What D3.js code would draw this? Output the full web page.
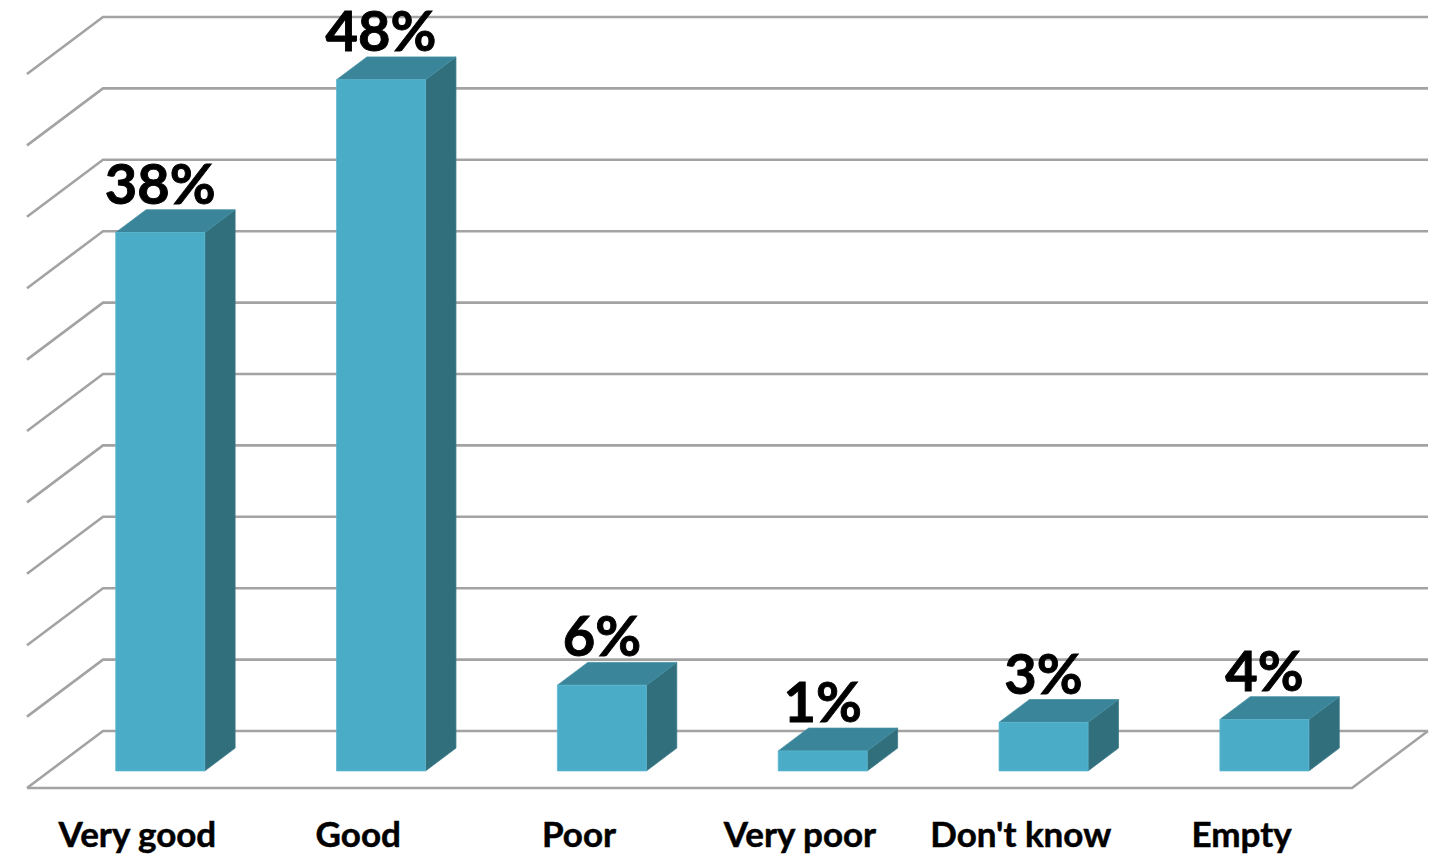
<!DOCTYPE html>
<html>
<head>
<meta charset="utf-8">
<script src="https://cdn.jsdelivr.net/npm/d3@7"></script>
<style>
  html, body { margin: 0; padding: 0; background: #ffffff; }
  svg { display: block; }
  text { font-family: Lato, "Open Sans", sans-serif; font-weight: 700; fill: #000; }
</style>
</head>
<body>
<svg id="chart" width="1450" height="858"></svg>
<script>
// ---- data ----
const categories = ["Very good", "Good", "Poor", "Very poor", "Don't know", "Empty"];
const values = [37.7, 48.4, 6.0, 1.4, 3.4, 3.6];          // percent
const gridTicks = [0, 5, 10, 15, 20, 25, 30, 35, 40, 45, 50];

// ---- layout ----
const backLeft = 103, backRight = 1428;
const depth = { dx: -76, dy: 57 };     // vector from back wall to front edge of floor
const barFront = 0.70, barBack = 0.30; // depth fractions of bar faces

const svg = d3.select("#chart");

const y = d3.scaleLinear().domain([0, 50]).range([731, 17]);
const x = d3.scaleBand().domain(categories).range([backLeft, backRight])
  .paddingInner(0.597).paddingOuter(0.2985);
const xFront = d3.scaleBand().domain(categories)
  .range([backLeft + depth.dx, backRight + depth.dx]);

const P = (px, py, t) => [px + t * depth.dx, py + t * depth.dy];

// ---- gridlines: back wall + left wall ----
const grid = svg.append("g").attr("fill", "none").attr("stroke", "#a3a3a3")
  .attr("stroke-width", 2.6).attr("stroke-linejoin", "miter");
const line = d3.line();
gridTicks.forEach(v => {
  const yy = y(v);
  grid.append("path").attr("d", line([P(backLeft, yy, 1), [backLeft, yy], [backRight, yy]]));
});
// floor front edge & right edge
grid.append("path").attr("d", line([
  P(backLeft, y(0), 1), P(backRight, y(0), 1), [backRight, y(0)]
]));

// ---- bars ----
const colors = { front: "#4aacc6", top: "#3a8599", side: "#326f7d", edge: "#5cb8cf" };
const bars = svg.append("g");
const fmt = d => d3.format(".0f")(d) + "%";
categories.forEach((c, i) => {
  const v = values[i];
  const xl = x(c), xr = x(c) + x.bandwidth();
  const y0 = y(0), y1 = y(v);
  const g = bars.append("g");
  const fl0 = P(xl, y0, barFront), fr0 = P(xr, y0, barFront);
  const fl1 = P(xl, y1, barFront), fr1 = P(xr, y1, barFront);
  const bl1 = P(xl, y1, barBack), br1 = P(xr, y1, barBack), br0 = P(xr, y0, barBack);
  g.append("path").attr("d", line([fr0, fr1, br1, br0]) + "Z")
    .attr("fill", colors.side).attr("stroke", "#3b7b8a").attr("stroke-width", 0.8);
  g.append("path").attr("d", line([fl1, fr1, br1, bl1]) + "Z")
    .attr("fill", colors.top).attr("stroke", "#4590a3").attr("stroke-width", 0.8);
  g.append("path").attr("d", line([fl0, fl1, fr1, fr0]) + "Z")
    .attr("fill", colors.front).attr("stroke", colors.edge).attr("stroke-width", 0.8);
  // value label
  svg.append("text")
    .attr("x", (fl1[0] + fr1[0]) / 2)
    .attr("y", bl1[1] - 6)
    .attr("text-anchor", "middle")
    .attr("font-size", 56)
    .attr("stroke", "#000").attr("stroke-width", 0.9)
    .text(fmt(v));
});

// ---- category axis ----
const axisY = y(0) + depth.dy;
const axis = svg.append("g").attr("transform", `translate(0,${axisY})`)
  .call(d3.axisBottom(xFront).tickSize(0).tickPadding(0));
axis.select(".domain").remove();
axis.selectAll("text")
  .attr("y", 59).attr("dy", 0)
  .attr("font-size", 35)
  .attr("stroke", "#000").attr("stroke-width", 0.5)
  .style("font-family", "Lato, 'Open Sans', sans-serif")
  .style("font-weight", 700)
  .attr("fill", "#000");
</script>
</body>
</html>
